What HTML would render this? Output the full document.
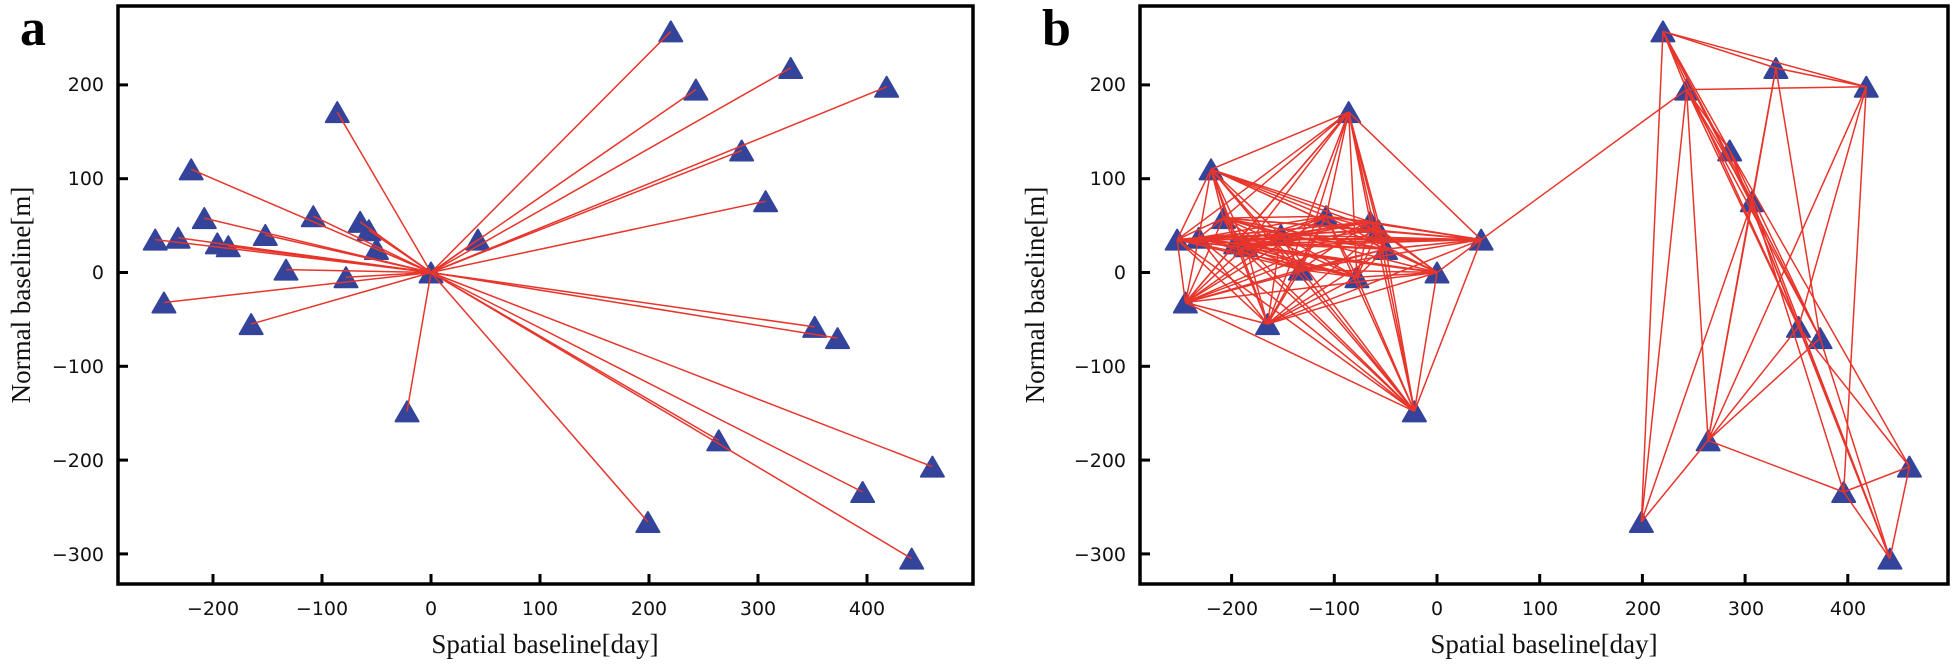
<!DOCTYPE html>
<html><head><meta charset="utf-8">
<style>
html,body{margin:0;padding:0;background:#fff;}
svg{display:block;}
.t{font-family:"DejaVu Sans",sans-serif;font-size:19px;fill:#111;}
.l{font-family:"Liberation Serif",serif;font-size:27px;fill:#111;}
.p{font-family:"Liberation Serif",serif;font-size:52px;font-weight:bold;fill:#000;}
</style></head>
<body>
<svg id="s" width="1954" height="666" viewBox="0 0 1954 666" xmlns="http://www.w3.org/2000/svg">
<g id="ga"></g><g id="gb"></g>
<text class="p" x="20" y="45">a</text>
<text class="p" x="1042" y="45">b</text>
<rect x="118" y="6" width="855" height="578" fill="none" stroke="#000" stroke-width="3.5"/>
<g class="t" text-anchor="end">
<text x="104" y="91">200</text><text x="104" y="185">100</text><text x="104" y="279">0</text>
<text x="104" y="373">−100</text><text x="104" y="467">−200</text><text x="104" y="561">−300</text>
</g>
<g class="t" text-anchor="middle">
<text x="213" y="615">−200</text><text x="322" y="615">−100</text><text x="431" y="615">0</text>
<text x="540" y="615">100</text><text x="649" y="615">200</text><text x="758" y="615">300</text><text x="867" y="615">400</text>
</g>
<text class="l" x="545" y="653" text-anchor="middle">Spatial baseline[day]</text>
<text class="l" transform="translate(30,295) rotate(-90)" text-anchor="middle">Normal baseline[m]</text>
<rect x="1140" y="6" width="808" height="578" fill="none" stroke="#000" stroke-width="3.5"/>
<g class="t" text-anchor="end">
<text x="1126" y="91">200</text><text x="1126" y="185">100</text><text x="1126" y="279">0</text>
<text x="1126" y="373">−100</text><text x="1126" y="467">−200</text><text x="1126" y="561">−300</text>
</g>
<g class="t" text-anchor="middle">
<text x="1232" y="615">−200</text><text x="1334" y="615">−100</text><text x="1437" y="615">0</text>
<text x="1540" y="615">100</text><text x="1643" y="615">200</text><text x="1746" y="615">300</text><text x="1848" y="615">400</text>
</g>
<text class="l" x="1544" y="653" text-anchor="middle">Spatial baseline[day]</text>
<text class="l" transform="translate(1044,295) rotate(-90)" text-anchor="middle">Normal baseline[m]</text>
<g id="ticks" stroke="#000" stroke-width="3"></g>
</svg>
<script>
var P=[[-253,35],[-232,37],[-220,110],[-208,58],[-196,31],[-186,28],[-152,40],[-245,-32],[-165,-55],[-133,3],[-108,60],[-86,171],[-78,-5],[-65,54],[-57,45],[-50,25],[0,0],[43,35],[-22,-148],
[220,257],[243,195],[330,218],[418,198],[285,130],[307,76],[352,-58],[373,-70],[264,-179],[199,-266],[396,-234],[441,-305],[460,-207]];
var NS="http://www.w3.org/2000/svg";
function Y(v){return 272.5-0.938*v;}
function XA(v){return 431+1.09*v;}
function XB(v){return 1437+1.027*v;}
function el(g,n,a){var e=document.createElementNS(NS,n);for(var k in a)e.setAttribute(k,a[k]);g.appendChild(e);return e;}
function tri(g,x,y){el(g,"polygon",{points:(x-11.5)+","+(y+10)+" "+(x+11.5)+","+(y+10)+" "+x+","+(y-10),fill:"#33449a",stroke:"#33449a","stroke-width":"2","stroke-linejoin":"round"});}
function ln(g,x1,y1,x2,y2){el(g,"line",{x1:x1,y1:y1,x2:x2,y2:y2,stroke:"#e8352b","stroke-width":"1.5"});}
var ga=document.getElementById("ga"),gb=document.getElementById("gb");
var la=el(ga,"g",{}),ma=el(ga,"g",{});
var mb=el(gb,"g",{}),lb=el(gb,"g",{});
P.forEach(function(p){tri(ma,XA(p[0]),Y(p[1]));tri(mb,XB(p[0]),Y(p[1]));});
var lt=el(ga,"g",{});
P.forEach(function(p,i){if(i!=16)ln(lt,XA(0),Y(0),XA(p[0]),Y(p[1]));});
for(var i=0;i<19;i++)for(var j=i+1;j<19;j++){ if(((i*7+j*3)%5)==0)continue; ln(lb,XB(P[i][0]),Y(P[i][1]),XB(P[j][0]),Y(P[j][1]));}
function L(a,b){ln(lb,XB(a[0]),Y(a[1]),XB(b[0]),Y(b[1]));}
L([43,35],[243,195]);
var E=[
[[220,257],[243,195]],[[220,257],[330,218]],[[220,257],[418,198]],[[220,257],[285,130]],[[220,257],[307,76]],[[220,257],[352,-58]],[[220,257],[373,-70]],[[220,257],[199,-266]],
[[243,195],[285,130]],[[243,195],[307,76]],[[243,195],[352,-58]],[[243,195],[373,-70]],[[243,195],[418,198]],[[243,195],[199,-266]],[[243,195],[264,-179]],
[[330,218],[418,198]],[[330,218],[264,-179]],[[330,218],[307,76]],[[330,218],[373,-70]],
[[418,198],[264,-179]],[[418,198],[396,-234]],[[418,198],[352,-58]],
[[285,130],[352,-58]],[[285,130],[373,-70]],[[285,130],[441,-305]],[[285,130],[460,-207]],
[[307,76],[199,-266]],[[307,76],[264,-179]],[[307,76],[441,-305]],[[307,76],[396,-234]],
[[264,-179],[352,-58]],[[264,-179],[373,-70]],[[264,-179],[396,-234]],[[264,-179],[199,-266]],
[[352,-58],[460,-207]],[[352,-58],[441,-305]],[[373,-70],[441,-305]],
[[396,-234],[460,-207]],[[441,-305],[460,-207]],[[396,-234],[441,-305]]];
E.forEach(function(e){L(e[0],e[1]);});
var tk=document.getElementById("ticks");
function ln2(a,b,c,d){el(tk,"line",{x1:a,y1:b,x2:c,y2:d});}
[200,100,0,-100,-200,-300].forEach(function(v){ln2(118,Y(v),128,Y(v));ln2(1140,Y(v),1150,Y(v));});
[-200,-100,0,100,200,300,400].forEach(function(v){ln2(XA(v),584,XA(v),574);ln2(XB(v),584,XB(v),574);});
</script>
</body></html>
